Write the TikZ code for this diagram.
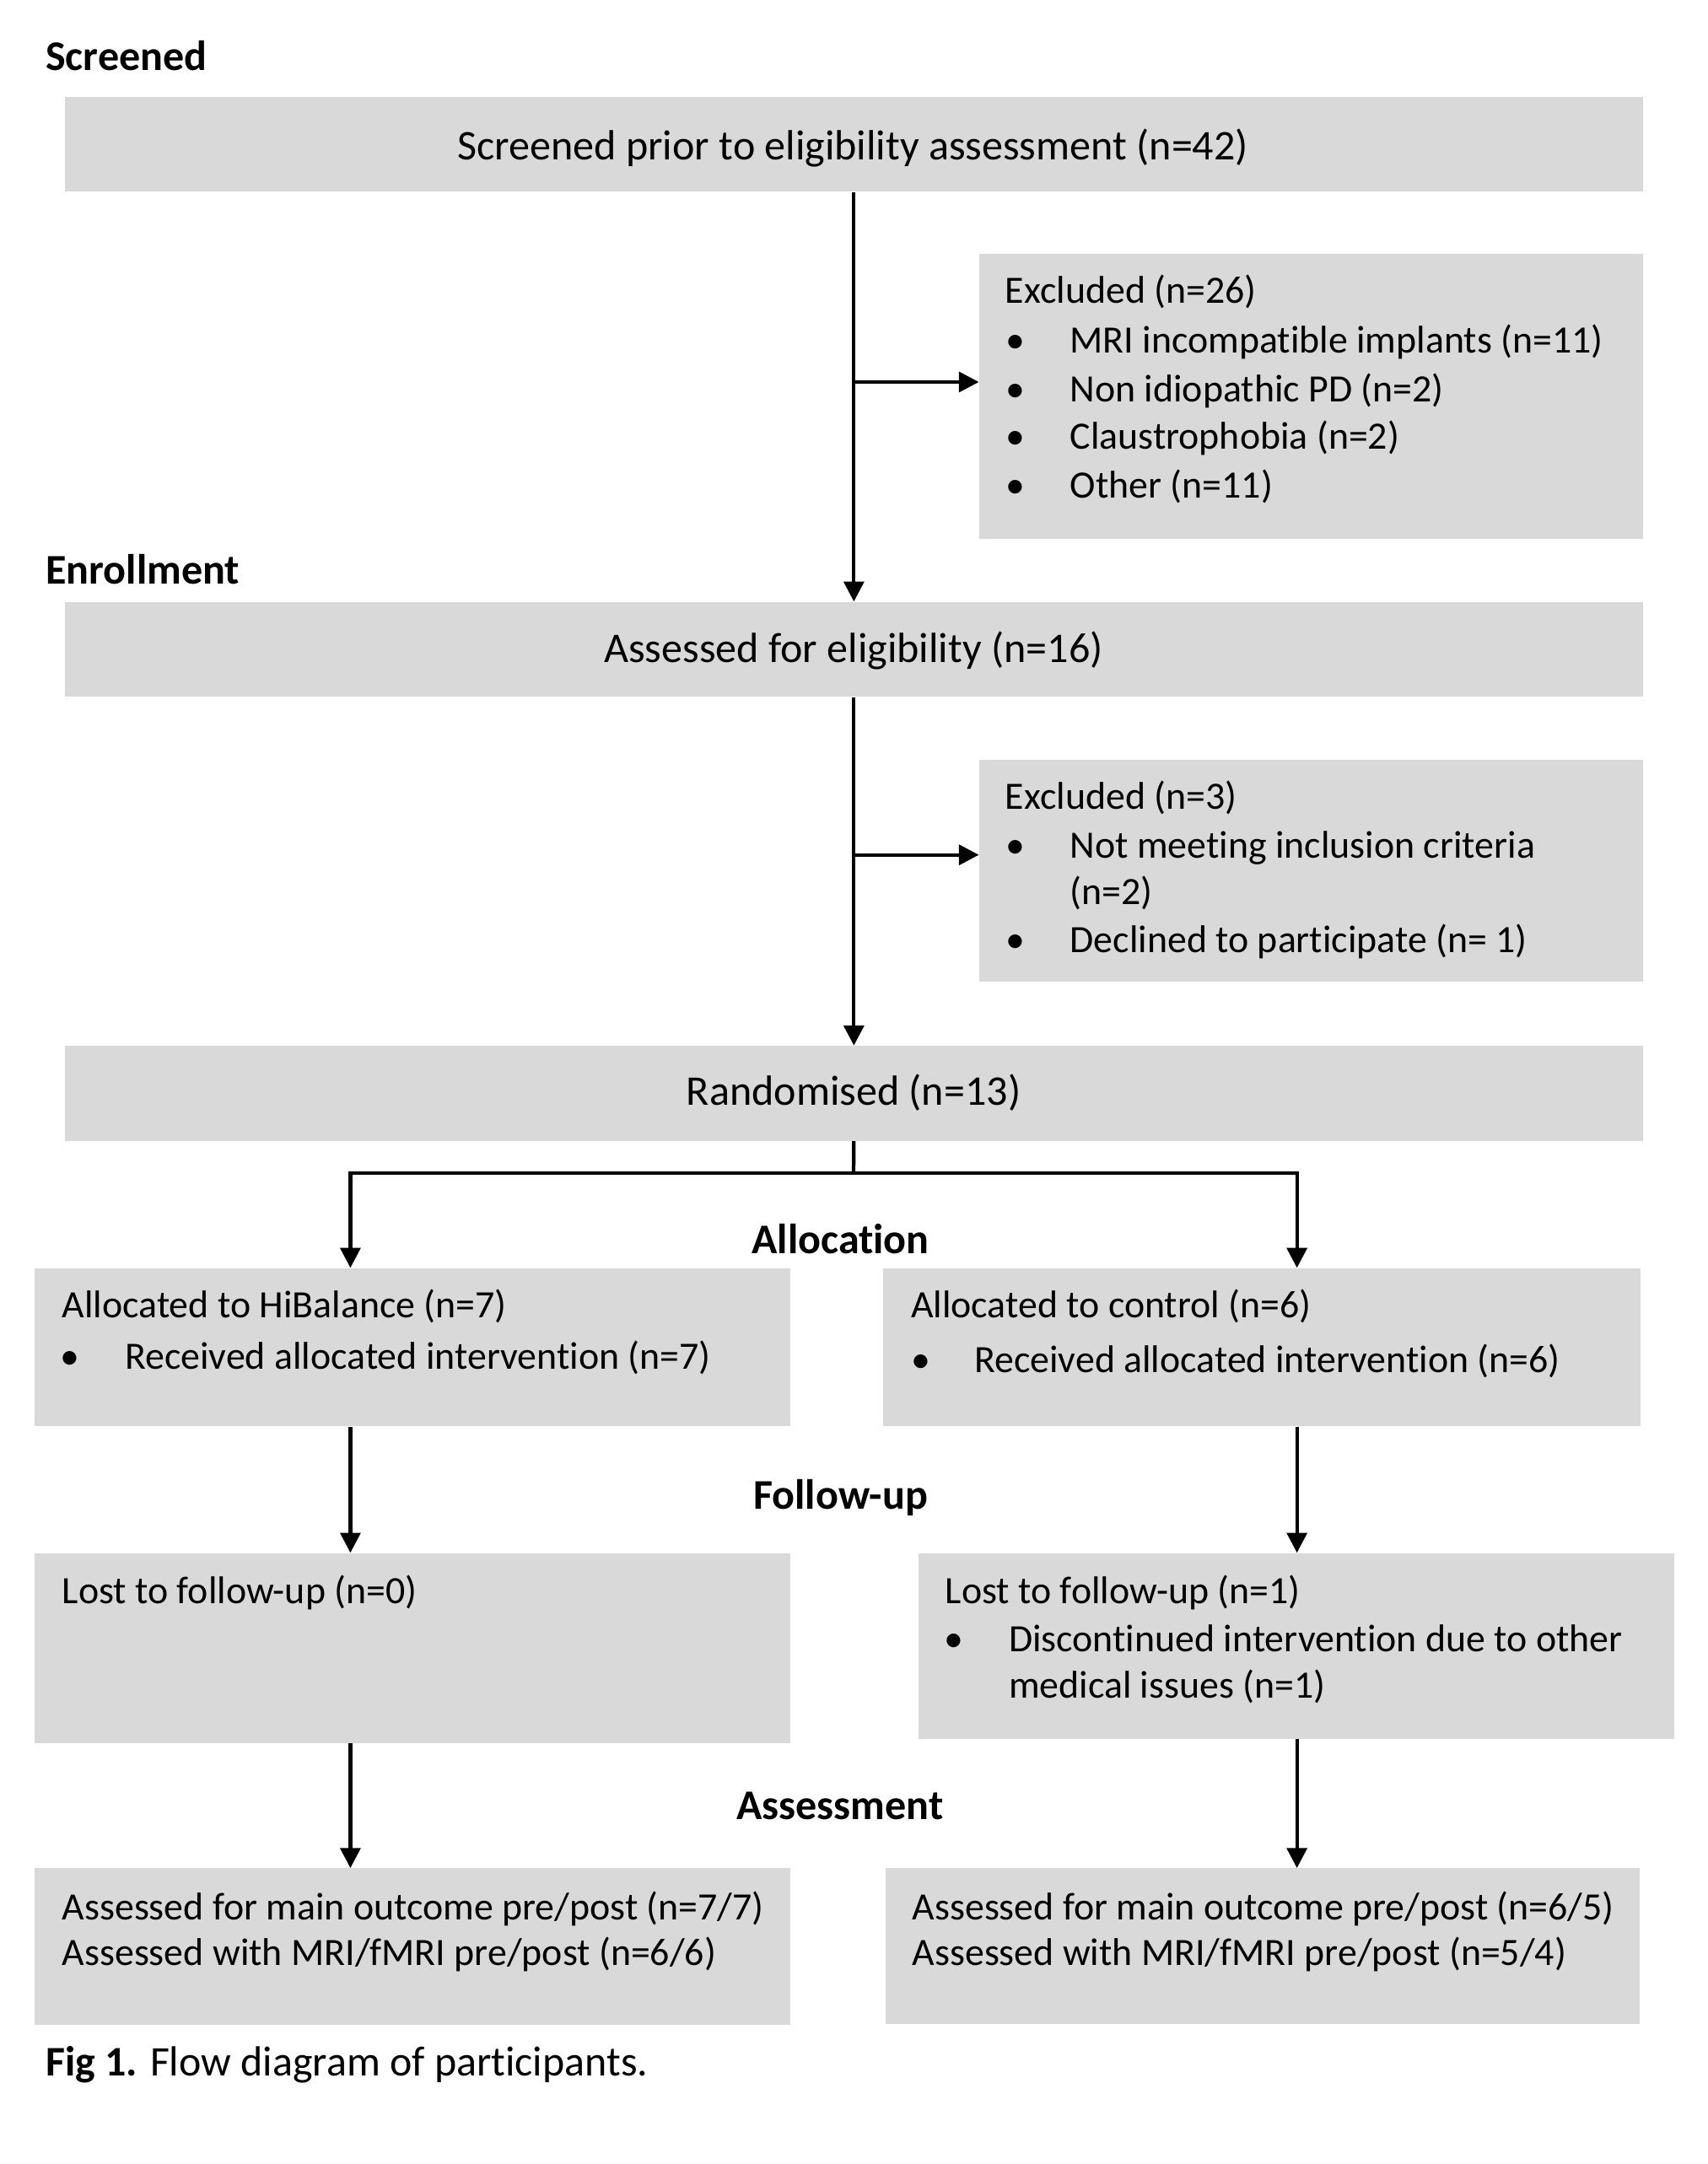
\documentclass[tikz,border=0pt]{standalone}
\usepackage{fontspec}
\setmainfont{Carlito}[Ligatures=NoCommon]
\usetikzlibrary{arrows.meta,calc}
\definecolor{boxgray}{RGB}{217,217,217}
\begin{document}
\begin{tikzpicture}[x=1pt,y=-1pt,
  box/.style={rectangle,fill=boxgray,draw=none,inner sep=0pt,anchor=north west},
  txt/.style={inner sep=0pt,anchor=base west,font=\fontsize{28.1}{34}\selectfont},
  ctxt/.style={inner sep=0pt,anchor=base,font=\fontsize{30.7}{36}\selectfont},
  head/.style={inner sep=0pt,anchor=base west,font=\fontsize{30.7}{36}\selectfont\bfseries},
  chead/.style={inner sep=0pt,anchor=base,font=\fontsize{30.7}{36}\selectfont\bfseries},
  bul/.style={inner sep=0pt,anchor=base,font=\fontsize{28.1}{34}\selectfont},
  captxt/.style={inner sep=0pt,anchor=base west,font=\fontsize{30.6}{36}\selectfont},
  conn/.style={line width=2.6pt,black},
  arr/.style={conn,-{Triangle[length=14.5pt,width=14.5pt]}}
]
\useasboundingbox (0,0) rectangle (1240,1572);

% boxes
\node[box,minimum width=1146pt,minimum height=69pt] (b1) at (47,70) {};
\node[box,minimum width=482pt,minimum height=207pt] (ex1) at (711,184) {};
\node[box,minimum width=1146pt,minimum height=69pt] (b2) at (47,437) {};
\node[box,minimum width=482pt,minimum height=161pt] (ex2) at (711,552) {};
\node[box,minimum width=1146pt,minimum height=69pt] (b3) at (47,759.5) {};
\node[box,minimum width=549pt,minimum height=115pt] (aL) at (25,921) {};
\node[box,minimum width=550pt,minimum height=115pt] (aR) at (641.5,921) {};
\node[box,minimum width=549pt,minimum height=138pt] (fL) at (25,1128) {};
\node[box,minimum width=549pt,minimum height=135pt] (fR) at (667,1128) {};
\node[box,minimum width=549pt,minimum height=114pt] (sL) at (25,1357) {};
\node[box,minimum width=548pt,minimum height=113pt] (sR) at (643,1357) {};

% section headings
\node[head] (hScr) at (33,51) {Screened};
\node[head] (hEnr) at (33,424) {Enrollment};
\node[chead] (hAll) at (610.5,910.5) {Allocation};
\node[chead] (hFol) at (610.5,1096) {Follow-up};
\node[chead] (hAss) at (610,1321.5) {Assessment};

% box texts
\node[ctxt] (t1) at (619.5,116) {Screened prior to eligibility assessment (n=42)};

\node[txt] (e1h) at (730,220) {Excluded (n=26)};
\node[bul] (e1b1) at (737.5,256.5) {•};
\node[txt] (e1t1) at (777,256.5) {MRI incompatible implants (n=11)};
\node[bul] (e1b2) at (737.5,292) {•};
\node[txt] (e1t2) at (777,292) {Non idiopathic PD (n=2)};
\node[bul] (e1b3) at (737.5,326.5) {•};
\node[txt] (e1t3) at (777,326.5) {Claustrophobia (n=2)};
\node[bul] (e1b4) at (737.5,361.5) {•};
\node[txt] (e1t4) at (777,361.5) {Other (n=11)};

\node[ctxt] (t2) at (620,481.5) {Assessed for eligibility (n=16)};

\node[txt] (e2h) at (730,587.5) {Excluded (n=3)};
\node[bul] (e2b1) at (737.5,623.5) {•};
\node[txt] (e2t1) at (777,623.5) {Not meeting inclusion criteria};
\node[txt] (e2t1b) at (777,657) {(n=2)};
\node[bul] (e2b2) at (737.5,692) {•};
\node[txt] (e2t2) at (777,692) {Declined to participate (n= 1)};

\node[ctxt] (t3) at (620,803) {Randomised (n=13)};

\node[txt] (aLh) at (45,957.5) {Allocated to HiBalance (n=7)};
\node[bul] (aLb) at (51,994.5) {•};
\node[txt] (aLt) at (90.5,994.5) {Received allocated intervention (n=7)};

\node[txt] (aRh) at (661.5,957.5) {Allocated to control (n=6)};
\node[bul] (aRb) at (669,997) {•};
\node[txt] (aRt) at (707.5,997) {Received allocated intervention (n=6)};

\node[txt] (fLh) at (45,1165) {Lost to follow-up (n=0)};

\node[txt] (fRh) at (686.5,1165) {Lost to follow-up (n=1)};
\node[bul] (fRb) at (693,1200) {•};
\node[txt] (fRt1) at (732.5,1200) {Discontinued intervention due to other};
\node[txt] (fRt2) at (732.5,1233.5) {medical issues (n=1)};

\node[txt] (sLt1) at (45,1394.5) {Assessed for main outcome pre/post (n=7/7)};
\node[txt] (sLt2) at (45,1427.5) {Assessed with MRI/fMRI pre/post (n=6/6)};
\node[txt] (sRt1) at (662.5,1394.5) {Assessed for main outcome pre/post (n=6/5)};
\node[txt] (sRt2) at (662.5,1427.5) {Assessed with MRI/fMRI pre/post (n=5/4)};

\node[captxt] (cap) at (33,1508) {\textbf{Fig 1.} Flow diagram of participants.};

% connectors
\coordinate (j1) at (620,277.5);
\coordinate (j2) at (620,621);
\coordinate (sm) at (620,852);
\coordinate (sl) at (254.5,852);
\coordinate (sr) at (942,852);

\draw[arr] (b1.south) -- (b2.north);
\draw[arr] (j1) -- (j1 -| ex1.west);
\draw[arr] (b2.south) -- (b3.north);
\draw[arr] (j2) -- (j2 -| ex2.west);
\draw[conn] (b3.south) -- (sm);
\draw[arr] (sm) -- (sl) -- (sl |- aL.north);
\draw[arr] (sm) -- (sr) -- (sr |- aR.north);
\draw[arr] (sl |- aL.south) -- (sl |- fL.north);
\draw[arr] (sr |- aR.south) -- (sr |- fR.north);
\draw[arr] (sl |- fL.south) -- (sl |- sL.north);
\draw[arr] (sr |- fR.south) -- (sr |- sR.north);
\end{tikzpicture}
\end{document}
